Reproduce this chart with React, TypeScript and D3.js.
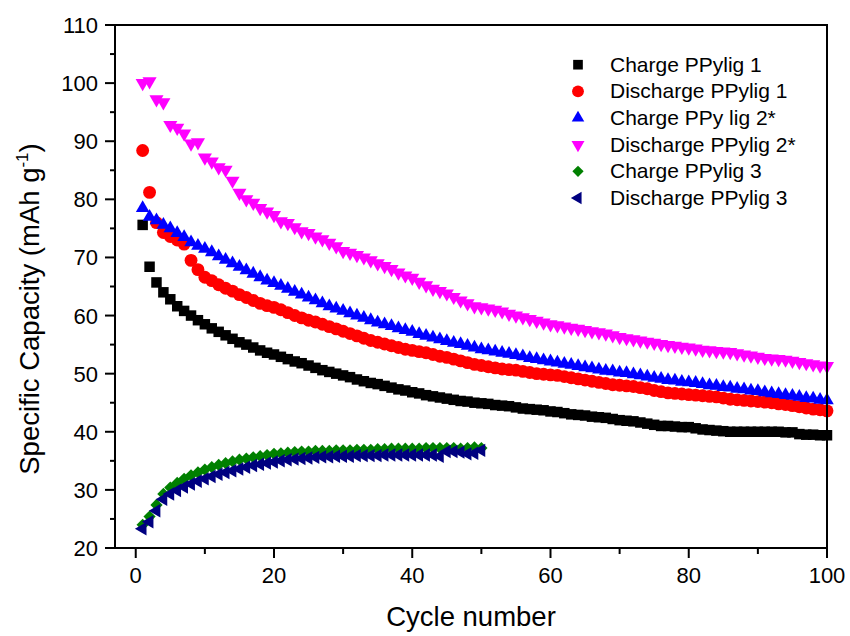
import React from "react";
import * as d3 from "d3";

const cycles100 = Array.from({ length: 100 }, (_, i) => i + 1);
const cycles50 = Array.from({ length: 50 }, (_, i) => i + 1);

const chargePPylig1 = [
  75.6, 68.4, 65.7, 64.0, 62.8, 61.6, 60.8, 60.0, 59.2, 58.5,
  57.8, 57.2, 56.6, 56.0, 55.4, 55.0, 54.5, 54.0, 53.6, 53.3,
  52.9, 52.5, 52.1, 51.8, 51.4, 51.0, 50.6, 50.3, 50.0, 49.7,
  49.4, 49.0, 48.7, 48.4, 48.2, 47.9, 47.6, 47.3, 47.1, 46.8,
  46.6, 46.3, 46.1, 45.9, 45.7, 45.5, 45.3, 45.2, 45.0, 44.9,
  44.8, 44.6, 44.5, 44.4, 44.2, 44.0, 43.9, 43.8, 43.7, 43.5,
  43.4, 43.2, 43.0, 42.9, 42.8, 42.6, 42.5, 42.4, 42.2, 42.0,
  41.9, 41.8, 41.6, 41.4, 41.2, 41.0, 41.0, 40.9, 40.8, 40.8,
  40.6, 40.4, 40.3, 40.2, 40.1, 40.0, 40.0, 40.0, 40.0, 40.0,
  40.0, 40.0, 40.0, 39.9, 39.9, 39.6, 39.5, 39.5, 39.4, 39.4,
];

const dischargePPylig1 = [
  88.4, 81.2, 76.0, 74.3, 73.6, 73.0, 72.3, 69.5, 67.9, 66.6,
  66.0, 65.3, 64.7, 64.2, 63.6, 63.1, 62.6, 62.1, 61.7, 61.4,
  61.0, 60.5, 60.0, 59.6, 59.2, 58.9, 58.5, 58.1, 57.7, 57.3,
  56.9, 56.5, 56.1, 55.7, 55.4, 55.1, 54.8, 54.5, 54.2, 54.0,
  53.8, 53.6, 53.3, 53.0, 52.8, 52.5, 52.2, 51.9, 51.6, 51.4,
  51.2, 51.0, 50.8, 50.7, 50.6, 50.4, 50.2, 50.0, 49.9, 49.8,
  49.7, 49.5, 49.3, 49.1, 48.9, 48.7, 48.5, 48.3, 48.1, 48.0,
  47.9, 47.8, 47.6, 47.4, 47.1, 46.9, 46.7, 46.6, 46.5, 46.4,
  46.3, 46.2, 46.1, 46.0, 45.8, 45.6, 45.5, 45.4, 45.3, 45.2,
  45.1, 45.0, 44.8, 44.7, 44.5, 44.3, 44.1, 43.9, 43.8, 43.6,
];

const chargePPylig2 = [
  78.5, 77.0, 76.4, 75.6, 75.0, 74.2, 73.5, 72.6, 72.0, 71.5,
  70.9, 70.2, 69.6, 69.0, 68.4, 67.8, 67.2, 66.6, 66.0, 65.6,
  65.1, 64.6, 64.1, 63.6, 63.1, 62.6, 62.1, 61.6, 61.2, 60.8,
  60.4, 60.0, 59.6, 59.2, 58.8, 58.5, 58.2, 57.8, 57.5, 57.2,
  56.8, 56.5, 56.2, 55.9, 55.6, 55.3, 55.1, 54.8, 54.5, 54.2,
  54.0, 53.8, 53.6, 53.4, 53.2, 53.0, 52.7, 52.5, 52.3, 52.1,
  51.9, 51.7, 51.5, 51.3, 51.1, 50.9, 50.7, 50.5, 50.4, 50.2,
  50.1, 49.9, 49.7, 49.5, 49.3, 49.1, 48.9, 48.8, 48.6, 48.5,
  48.4, 48.2, 48.0, 47.9, 47.7, 47.6, 47.4, 47.3, 47.1, 47.0,
  46.8, 46.6, 46.5, 46.3, 46.2, 46.0, 45.8, 45.7, 45.5, 45.4,
];

const dischargePPylig2 = [
  100.0, 100.3, 97.2, 96.7, 92.8, 92.3, 91.3, 89.6, 89.8, 87.2,
  86.5, 85.5, 85.1, 83.2, 81.1, 80.0, 79.4, 78.5, 77.9, 77.3,
  76.2, 75.9, 75.2, 74.5, 74.2, 73.6, 73.1, 72.5, 71.9, 71.1,
  70.8, 70.4, 70.0, 69.5, 69.0, 68.5, 68.0, 67.4, 66.9, 66.5,
  65.8, 65.2, 64.6, 64.2, 63.8, 63.2, 62.6, 62.1, 61.6, 61.4,
  61.2, 61.0, 60.7, 60.3, 60.0, 59.7, 59.4, 59.1, 58.8, 58.5,
  58.3, 58.1, 57.9, 57.7, 57.5, 57.3, 57.1, 56.9, 56.6, 56.3,
  56.1, 55.9, 55.7, 55.5, 55.3, 55.1, 54.9, 54.8, 54.6, 54.5,
  54.3, 54.1, 54.0, 53.9, 53.8, 53.7, 53.5, 53.3, 53.1, 52.9,
  52.7, 52.6, 52.5, 52.4, 52.2, 52.0, 51.8, 51.6, 51.4, 51.3,
];

const chargePPylig3 = [
  24.0, 25.4, 27.4, 29.3, 30.4, 31.2, 31.9, 32.5, 33.0, 33.5,
  33.9, 34.3, 34.6, 34.9, 35.2, 35.4, 35.6, 35.8, 36.0, 36.2,
  36.3, 36.4, 36.5, 36.6, 36.6, 36.7, 36.7, 36.7, 36.8, 36.8,
  36.8, 36.9, 36.9, 36.9, 37.0, 37.0, 37.1, 37.1, 37.1, 37.1,
  37.1, 37.2, 37.2, 37.2, 37.2, 37.2, 37.1, 37.2, 37.3, 37.2,
];

const dischargePPylig3 = [
  23.3, 24.5, 26.4, 28.4, 29.3, 29.9, 30.5, 31.0, 31.5, 31.9,
  32.3, 32.7, 33.0, 33.3, 33.6, 33.9, 34.2, 34.4, 34.6, 34.8,
  35.0, 35.2, 35.3, 35.4, 35.5, 35.6, 35.7, 35.7, 35.8, 35.8,
  35.8, 35.9, 35.9, 35.9, 35.9, 36.0, 36.0, 36.0, 36.0, 36.0,
  36.0, 36.0, 36.0, 35.8, 36.6, 36.6, 36.5, 36.2, 36.3, 36.8,
];

const seriesNames = [
  "Charge PPylig 1",
  "Discharge PPylig 1",
  "Charge PPy lig 2*",
  "Discharge PPylig 2*",
  "Charge PPylig 3",
  "Discharge PPylig 3",
];

const xTicksMajor = [0, 20, 40, 60, 80, 100];
const xTicksMinor = [10, 30, 50, 70, 90];
const yTicksMajor = [20, 30, 40, 50, 60, 70, 80, 90, 100, 110];
const yTicksMinor = [25, 35, 45, 55, 65, 75, 85, 95, 105];

const FONT = "'Liberation Sans', Arial, Helvetica, sans-serif";

type Style = { color: string; symbol: d3.SymbolType; size: number; rotate: number };

const styles: Style[] = [
  { color: "#000000", symbol: d3.symbolSquare, size: 110, rotate: 0 },
  { color: "#ff0000", symbol: d3.symbolCircle, size: 130, rotate: 0 },
  { color: "#0000ff", symbol: d3.symbolTriangle, size: 80, rotate: 0 },
  { color: "#ff00ff", symbol: d3.symbolTriangle, size: 86, rotate: 180 },
  { color: "#008000", symbol: d3.symbolSquare, size: 75, rotate: 45 },
  { color: "#000080", symbol: d3.symbolTriangle, size: 78, rotate: -90 },
];

export default function App() {
  const W = 850;
  const H = 636;
  const left = 115, right = 827, top = 25, bottom = 548;

  const x = d3.scaleLinear().domain([-3, 100]).range([left, right]);
  const y = d3.scaleLinear().domain([20, 110]).range([bottom, top]);

  const data: { xs: number[]; ys: number[] }[] = [
    { xs: cycles100, ys: chargePPylig1 },
    { xs: cycles100, ys: dischargePPylig1 },
    { xs: cycles100, ys: chargePPylig2 },
    { xs: cycles100, ys: dischargePPylig2 },
    { xs: cycles50, ys: chargePPylig3 },
    { xs: cycles50, ys: dischargePPylig3 },
  ];

  const paths = styles.map((s) => d3.symbol().type(s.symbol).size(s.size)()!);
  const legendPaths = styles.map((s) => d3.symbol().type(s.symbol).size(s.size * 0.85)()!);

  const legendX = 578;
  const legendTextX = 610;
  const legendBase0 = 71.7;
  const legendStep = 26.65;

  return (
    <svg width={W} height={H} style={{ display: "block", position: "absolute", left: 0, top: 0, background: "#fff" }}>
      <rect x={0} y={0} width={W} height={H} fill="#fff" />
      {data.map((d, si) => (
        <g key={si} fill={styles[si].color}>
          {d.xs.map((cx, i) => (
            <path
              key={i}
              d={paths[si]}
              transform={`translate(${x(cx)},${y(d.ys[i])}) rotate(${styles[si].rotate})`}
            />
          ))}
        </g>
      ))}
      <rect x={left} y={top} width={right - left} height={bottom - top} fill="none" stroke="#000" strokeWidth={2} />
      {xTicksMajor.map((t) => (
        <g key={"xm" + t}>
          <line x1={x(t)} x2={x(t)} y1={bottom} y2={bottom + 10} stroke="#000" strokeWidth={2} />
          <text x={x(t)} y={583} textAnchor="middle" fontFamily={FONT} fontSize={22} fill="#000">{t}</text>
        </g>
      ))}
      {xTicksMinor.map((t) => (
        <line key={"xn" + t} x1={x(t)} x2={x(t)} y1={bottom} y2={bottom + 6} stroke="#000" strokeWidth={2} />
      ))}
      {yTicksMajor.map((t) => (
        <g key={"ym" + t}>
          <line x1={left} x2={left - 10} y1={y(t)} y2={y(t)} stroke="#000" strokeWidth={2} />
          <text x={98} y={y(t) + 8} textAnchor="end" fontFamily={FONT} fontSize={22} fill="#000">{t}</text>
        </g>
      ))}
      {yTicksMinor.map((t) => (
        <line key={"yn" + t} x1={left} x2={left - 5} y1={y(t)} y2={y(t)} stroke="#000" strokeWidth={2} />
      ))}
      <text x={(left + right) / 2} y={626} textAnchor="middle" fontFamily={FONT} fontSize={27.5} fill="#000">
        Cycle number
      </text>
      <text
        transform={`translate(39,${309}) rotate(-90)`}
        textAnchor="middle"
        fontFamily={FONT}
        fontSize={27.5}
        fill="#000"
      >
        Specific Capacity (mAh g
        <tspan fontSize={17} dy={-11}>-1</tspan>
        <tspan dy={11}>)</tspan>
      </text>
      {seriesNames.map((name, i) => {
        const by = legendBase0 + i * legendStep;
        return (
          <g key={"lg" + i}>
            <path
              d={legendPaths[i]}
              fill={styles[i].color}
              transform={`translate(${legendX},${by - 7}) rotate(${styles[i].rotate})`}
            />
            <text x={legendTextX} y={by} fontFamily={FONT} fontSize={21} fill="#000">{name}</text>
          </g>
        );
      })}
    </svg>
  );
}
